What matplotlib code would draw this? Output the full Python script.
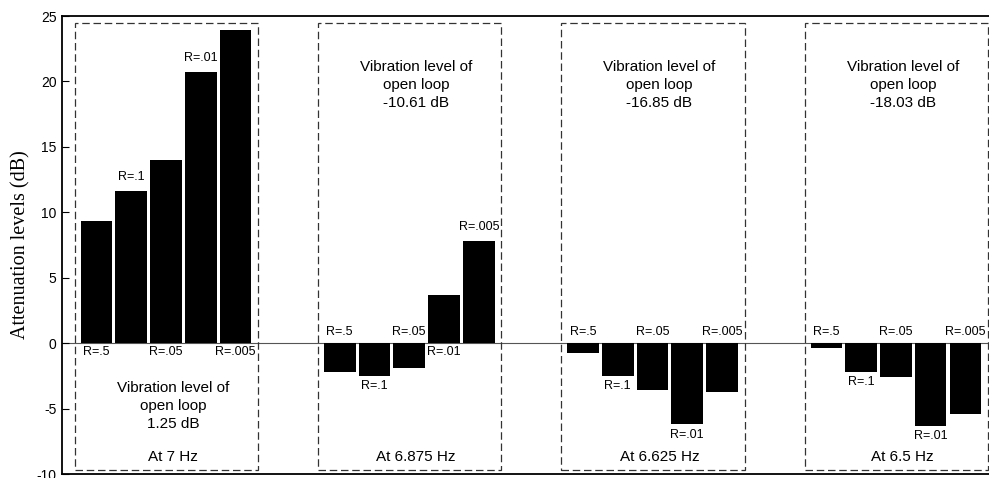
import matplotlib
matplotlib.use("Agg")
import matplotlib.pyplot as plt
from matplotlib.patches import Rectangle

plt.rcParams['font.family'] = 'Liberation Sans'
plt.rcParams['axes.unicode_minus'] = False

# data
r_labels = ['R=.5', 'R=.1', 'R=.05', 'R=.01', 'R=.005']
freq_labels = ['At 7 Hz', 'At 6.875 Hz', 'At 6.625 Hz', 'At 6.5 Hz']
open_loop = ['1.25 dB', '-10.61 dB', '-16.85 dB', '-18.03 dB']
atten_7 = [9.3, 11.6, 14.0, 20.7, 23.9]
atten_6875 = [-2.2, -2.5, -1.9, 3.7, 7.8]
atten_6625 = [-0.75, -2.5, -3.6, -6.2, -3.7]
atten_65 = [-0.35, -2.2, -2.6, -6.3, -5.4]
groups = [atten_7, atten_6875, atten_6625, atten_65]

# where each R label sits: t = above bar top, e = below bar end,
# za = just above zero line, zb = just below zero line
label_pos = [
    ['zb', 't', 'zb', 't', 'zb'],
    ['za', 'e', 'za', 'zb', 't'],
    ['za', 'e', 'za', 'e', 'za'],
    ['za', 'e', 'za', 'e', 'za'],
]
# open-loop note at top of box, except first group where it is below
note_at_top = [False, True, True, True]

fig = plt.figure(figsize=(9.89, 4.78), dpi=100)
ax = fig.add_axes([62 / 989, 4 / 478, 1 - 62 / 989, 458 / 478])

step = 7
for g, vals in enumerate(groups):
    xs = [g * step + i for i in range(len(vals))]
    ax.bar(xs, vals, width=0.91, color='black', zorder=3)
    c = g * step + 2

    # dashed frame round each group
    ax.add_patch(Rectangle((c - 2.62, -9.72), 5.27, 34.2, fill=False,
                           ec='#333333', lw=0.9, ls=(0, (6, 3)), zorder=2))

    for i, (x, v) in enumerate(zip(xs, vals)):
        mode = label_pos[g][i]
        if mode == 't':
            y, dy = v, 10
        elif mode == 'e':
            y, dy = v, -7.5
        elif mode == 'za':
            y, dy = 0, 8
        else:
            y, dy = 0, -6.5
        ax.annotate(r_labels[i], (x, y), xytext=(0, dy), textcoords='offset points',
                    ha='center', va='center', fontsize=9, zorder=4)

    note = 'Vibration level of\nopen loop\n' + open_loop[g]
    ny = 19.75 if note_at_top[g] else -4.8
    ax.text(c + 0.2, ny, note, ha='center', va='center', fontsize=11,
            linespacing=1.38)
    ax.text(c + 0.2, -8.7, freq_labels[g], ha='center', va='center', fontsize=11)

ax.axhline(0, color='#555555', lw=0.8, zorder=1)

ax.set_xlim(-0.99, 25.68)
ax.set_ylim(-10, 25)
ax.set_yticks(range(-10, 26, 5))
ax.set_xticks([])
ax.tick_params(axis='y', direction='in', length=5, width=0.8, labelsize=10, pad=4)
ax.spines['right'].set_visible(False)
for s in ['left', 'top', 'bottom']:
    ax.spines[s].set_linewidth(1.3)
ax.set_ylabel('Attenuation levels (dB)', family='Liberation Serif', fontsize=14.5,
              labelpad=4)

fig.savefig('out.png', dpi=100)
